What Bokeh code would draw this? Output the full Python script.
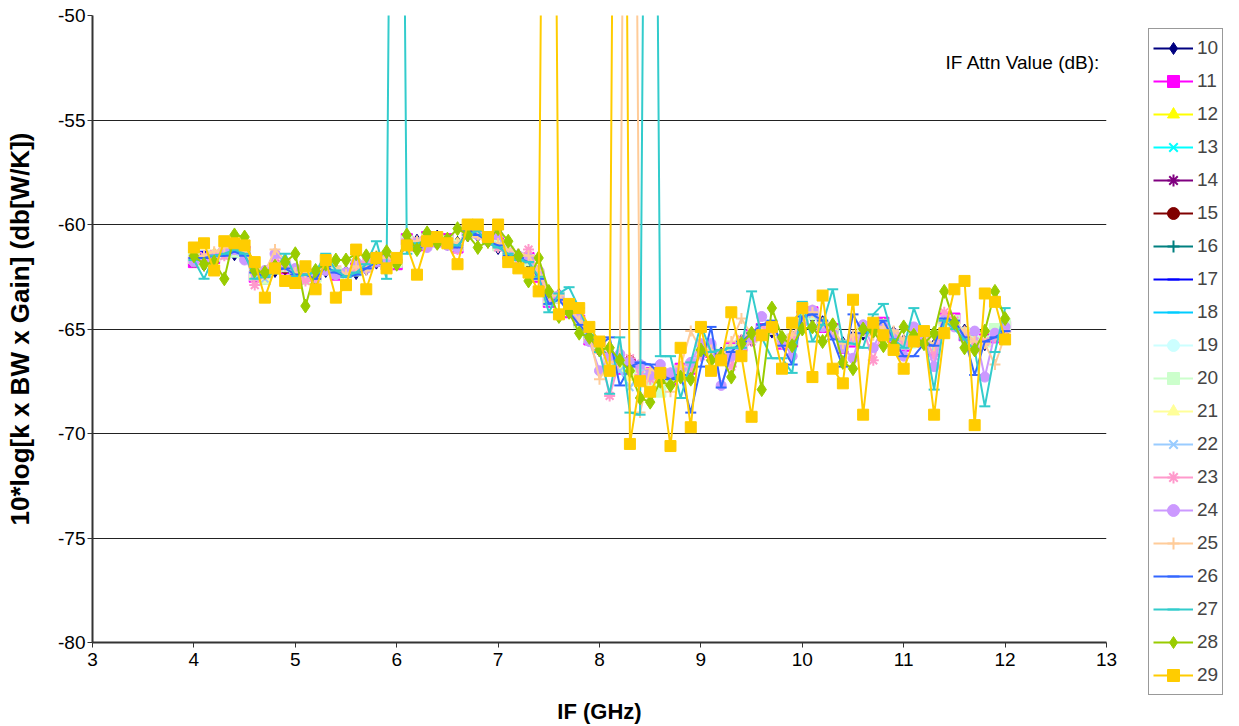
from bokeh.plotting import figure
from bokeh.models import Range1d, Legend, LegendItem, Label, SingleIntervalTicker
from bokeh.embed import file_html
from bokeh.resources import INLINE

# IF frequency grid (GHz)
freq_ghz = [4.0, 4.1, 4.2, 4.3, 4.4, 4.5, 4.6, 4.7, 4.8, 4.9,
            5.0, 5.1, 5.2, 5.3, 5.4, 5.5, 5.6, 5.7, 5.8, 5.9,
            6.0, 6.1, 6.2, 6.3, 6.4, 6.5, 6.6, 6.7, 6.8, 6.9,
            7.0, 7.1, 7.2, 7.3, 7.4, 7.5, 7.6, 7.7, 7.8, 7.9,
            8.0, 8.1, 8.2, 8.3, 8.4, 8.5, 8.6, 8.7, 8.8, 8.9,
            9.0, 9.1, 9.2, 9.3, 9.4, 9.5, 9.6, 9.7, 9.8, 9.9,
            10.0, 10.1, 10.2, 10.3, 10.4, 10.5, 10.6, 10.7, 10.8, 10.9,
            11.0, 11.1, 11.2, 11.3, 11.4, 11.5, 11.6, 11.7, 11.8, 11.9,
            12.0]

att10 = [-61.6,-61.9,-61.5,-61.3,-61.4,-61.5,-62.3,-62.5,-62.2,-62.1,
         -62.4,-62.5,-62.6,-62.2,-62.2,-62.3,-62.3,-62.1,-61.8,-61.8,
         -61.7,-60.9,-60.8,-60.8,-60.6,-60.9,-60.9,-60.5,-60.5,-60.8,
         -61.1,-61.2,-61.5,-61.8,-62.3,-63.5,-63.4,-64.0,-64.8,-65.3,
         -66.0,-66.4,-66.7,-66.9,-67.0,-67.3,-67.0,-67.2,-67.1,-66.7,
         -66.1,-65.9,-66.2,-66.1,-65.6,-65.5,-65.2,-65.1,-65.5,-65.4,
         -64.6,-64.4,-64.7,-65.2,-65.7,-65.4,-65.2,-65.1,-64.9,-65.2,
         -65.6,-65.4,-65.5,-65.8,-64.7,-64.7,-65.1,-65.5,-65.7,-65.2,
         -65.1]
att11 = [-61.8,-61.7,-61.6,-61.4,-61.2,-61.3,-62.5,-62.6,-62.0,-62.1,
         -62.6,-62.5,-62.4,-62.1,-62.4,-62.5,-62.1,-62.0,-61.6,-61.9,
         -61.9,-60.7,-61.0,-60.6,-60.8,-60.7,-61.1,-60.3,-60.4,-60.6,
         -60.9,-61.4,-61.6,-61.6,-62.5,-63.7,-63.5,-64.2,-64.6,-65.5,
         -65.8,-66.6,-66.9,-66.7,-67.2,-67.1,-67.2,-67.4,-66.9,-66.9,
         -65.9,-66.1,-66.4,-65.9,-65.8,-65.3,-65.0,-64.9,-65.7,-65.6,
         -64.4,-64.2,-64.9,-65.0,-65.9,-65.6,-65.0,-64.9,-64.7,-65.4,
         -65.8,-65.6,-65.3,-66.0,-64.5,-64.5,-65.3,-65.7,-65.5,-65.4,
         -64.9]
att12 = [-61.7,-61.8,-61.4,-61.5,-61.3,-61.5,-62.4,-62.7,-62.1,-61.9,
         -62.5,-62.7,-62.5,-62.0,-62.3,-62.3,-62.2,-61.9,-61.7,-62.0,
         -61.8,-60.8,-60.9,-60.8,-60.7,-60.8,-60.9,-60.4,-60.5,-60.7,
         -61.0,-61.3,-61.7,-61.7,-62.4,-63.6,-63.6,-64.1,-64.7,-65.4,
         -65.9,-66.5,-66.8,-66.9,-67.1,-67.2,-67.0,-67.3,-67.0,-66.8,
         -66.0,-66.0,-66.3,-66.1,-65.7,-65.4,-65.1,-65.0,-65.6,-65.5,
         -64.5,-64.3,-64.8,-65.1,-65.8,-65.5,-65.1,-65.0,-64.8,-65.3,
         -65.7,-65.5,-65.4,-65.9,-64.6,-64.6,-65.2,-65.6,-65.6,-65.3,
         -65.0]
att13 = [-61.6,-61.8,-61.6,-61.4,-61.4,-61.4,-62.3,-62.6,-62.2,-62.0,
         -62.5,-62.6,-62.4,-62.2,-62.3,-62.4,-62.2,-62.1,-61.7,-61.8,
         -61.7,-60.8,-60.9,-60.7,-60.8,-60.8,-61.0,-60.4,-60.3,-60.7,
         -61.0,-61.3,-61.6,-61.7,-62.4,-63.5,-63.5,-64.1,-64.7,-65.3,
         -65.9,-66.5,-66.7,-66.8,-67.1,-67.3,-67.1,-67.2,-67.0,-66.8,
         -66.0,-66.1,-66.3,-66.0,-65.7,-65.4,-65.1,-65.0,-65.6,-65.6,
         -64.5,-64.3,-64.8,-65.1,-65.7,-65.5,-65.1,-65.0,-64.8,-65.3,
         -65.7,-65.5,-65.4,-65.9,-64.6,-64.6,-65.2,-65.6,-65.6,-65.3,
         -65.0]
att14 = [-61.7,-61.7,-61.5,-61.3,-61.3,-61.4,-62.4,-62.5,-62.1,-62.0,
         -62.4,-62.6,-62.5,-62.1,-62.2,-62.4,-62.2,-62.0,-61.8,-61.9,
         -61.8,-60.8,-60.8,-60.7,-60.7,-60.7,-61.0,-60.4,-60.4,-60.7,
         -61.0,-61.3,-61.6,-61.6,-62.4,-63.6,-63.5,-64.0,-64.7,-65.4,
         -65.9,-66.4,-66.8,-66.8,-67.0,-67.2,-67.1,-67.3,-67.0,-66.9,
         -66.0,-66.0,-66.2,-66.0,-65.7,-65.4,-65.0,-65.0,-65.6,-65.5,
         -64.4,-64.3,-64.8,-65.1,-65.8,-65.5,-65.1,-65.0,-64.8,-65.3,
         -65.7,-65.5,-65.4,-65.9,-64.6,-64.6,-65.2,-65.6,-65.6,-65.3,
         -65.0]
att15 = [-61.8,-61.8,-61.5,-61.4,-61.3,-61.4,-62.4,-62.6,-62.1,-62.1,
         -62.5,-62.6,-62.5,-62.1,-62.3,-62.4,-62.2,-62.0,-61.7,-61.9,
         -61.8,-60.8,-60.9,-60.7,-60.7,-60.8,-61.0,-60.4,-60.4,-60.7,
         -61.0,-61.3,-61.6,-61.7,-62.4,-63.6,-63.5,-64.1,-64.7,-65.4,
         -65.9,-66.3,-66.8,-66.5,-67.1,-67.2,-67.1,-67.3,-67.0,-66.8,
         -66.0,-66.0,-66.3,-66.0,-65.7,-65.4,-65.1,-65.0,-65.6,-65.5,
         -64.5,-64.3,-64.8,-65.1,-65.8,-65.5,-65.1,-65.0,-64.8,-65.3,
         -65.7,-65.5,-65.4,-65.9,-64.6,-64.6,-65.2,-65.6,-65.6,-65.3,
         -65.0]
att16 = [-61.7,-61.9,-61.5,-61.4,-61.2,-61.4,-62.5,-62.6,-62.1,-62.0,
         -62.5,-62.5,-62.5,-62.2,-62.3,-62.4,-62.2,-62.0,-61.7,-61.8,
         -61.8,-60.8,-60.9,-60.7,-60.6,-60.8,-61.0,-60.4,-60.4,-60.7,
         -61.1,-61.3,-61.6,-61.8,-62.4,-63.6,-63.5,-64.1,-64.7,-65.4,
         -65.9,-66.5,-66.8,-66.8,-67.1,-67.2,-67.1,-67.3,-67.0,-66.8,
         -66.0,-66.0,-66.3,-66.0,-65.7,-65.4,-65.1,-65.0,-65.6,-65.5,
         -64.5,-64.3,-64.8,-65.1,-65.8,-65.5,-65.1,-65.0,-64.8,-65.3,
         -65.7,-65.5,-65.4,-65.9,-64.6,-64.6,-65.2,-65.6,-65.6,-65.3,
         -65.0]
att17 = [-61.6,-61.3,-61.6,-61.4,-61.3,-61.3,-62.3,-62.4,-62.0,-62.1,
         -62.6,-62.3,-62.6,-62.0,-62.4,-62.7,-62.3,-62.1,-61.7,-61.9,
         -61.8,-60.8,-60.7,-60.8,-60.7,-60.7,-61.1,-60.2,-60.4,-60.7,
         -61.1,-61.4,-61.6,-61.8,-62.5,-63.7,-63.5,-64.1,-64.8,-65.4,
         -65.9,-66.6,-66.9,-66.8,-67.1,-67.1,-67.2,-67.3,-67.1,-66.8,
         -66.1,-65.9,-66.3,-66.1,-65.8,-65.4,-65.2,-65.0,-65.6,-65.5,
         -64.4,-64.2,-64.8,-65.2,-65.9,-65.5,-65.1,-65.0,-64.8,-65.3,
         -65.8,-65.6,-65.4,-65.9,-64.7,-64.6,-65.2,-65.6,-65.6,-65.2,
         -65.0]
att18 = [-61.7,-61.8,-61.6,-61.4,-61.3,-61.5,-62.4,-62.6,-62.1,-62.0,
         -62.5,-62.6,-62.5,-62.1,-62.3,-62.4,-62.3,-62.0,-61.8,-61.9,
         -61.8,-60.9,-60.9,-60.7,-60.7,-60.8,-61.0,-60.4,-60.4,-60.8,
         -61.0,-61.3,-61.6,-61.7,-62.4,-63.6,-63.5,-64.1,-64.7,-65.4,
         -65.9,-66.5,-66.8,-66.8,-67.1,-67.2,-67.1,-67.3,-67.0,-66.8,
         -66.0,-66.0,-66.3,-66.0,-65.7,-65.4,-65.1,-65.0,-65.6,-65.5,
         -64.5,-64.3,-64.8,-65.1,-65.8,-65.5,-65.1,-65.0,-64.8,-65.3,
         -65.7,-65.5,-65.4,-65.9,-64.6,-64.6,-65.2,-65.6,-65.6,-65.3,
         -65.0]
att19 = [-61.7,-61.7,-61.5,-61.4,-61.3,-61.4,-62.4,-62.5,-62.1,-62.0,
         -62.4,-62.6,-62.5,-62.1,-62.3,-62.4,-62.2,-62.0,-61.7,-61.9,
         -61.8,-60.8,-60.9,-60.7,-60.7,-60.8,-61.0,-60.4,-60.4,-60.7,
         -61.0,-61.3,-61.6,-61.7,-62.4,-63.6,-63.5,-64.1,-64.7,-65.4,
         -65.9,-66.5,-66.8,-66.8,-67.1,-67.2,-67.1,-67.3,-67.0,-66.8,
         -66.0,-66.0,-66.3,-66.0,-65.7,-65.4,-65.1,-65.0,-65.6,-65.5,
         -64.5,-64.3,-64.8,-65.1,-65.8,-65.5,-65.1,-65.0,-64.8,-65.3,
         -65.7,-65.7,-65.4,-65.9,-64.6,-64.6,-65.2,-65.6,-65.6,-65.3,
         -65.0]
att20 = [-61.6,-61.8,-61.5,-61.4,-61.3,-61.4,-62.4,-62.6,-62.1,-62.0,
         -62.5,-62.6,-62.5,-62.1,-62.3,-62.4,-62.2,-62.0,-61.7,-61.9,
         -61.8,-60.8,-60.9,-60.7,-60.7,-60.8,-61.0,-60.3,-60.4,-60.7,
         -61.0,-61.3,-61.6,-61.7,-62.4,-63.6,-63.5,-64.1,-64.7,-65.4,
         -65.9,-66.5,-66.8,-66.8,-67.1,-67.4,-68.0,-67.3,-67.0,-66.8,
         -66.0,-66.0,-66.3,-66.0,-65.7,-65.4,-65.1,-65.0,-65.6,-65.5,
         -64.5,-64.3,-64.8,-65.1,-65.8,-65.5,-65.1,-65.0,-64.8,-65.3,
         -65.7,-65.5,-65.4,-65.9,-64.6,-64.6,-65.2,-65.6,-65.6,-65.0,
         -64.8]
att21 = [-61.7,-61.8,-61.5,-61.4,-61.3,-61.4,-62.4,-62.6,-62.1,-62.0,
         -62.5,-62.6,-62.5,-62.1,-62.3,-62.4,-62.2,-62.0,-61.7,-61.9,
         -61.8,-60.8,-60.9,-60.7,-60.7,-60.8,-61.0,-60.4,-60.4,-60.7,
         -61.0,-61.3,-61.6,-61.7,-62.4,-63.6,-63.5,-64.1,-64.7,-65.4,
         -65.9,-66.5,-66.8,-67.3,-67.1,-67.2,-67.4,-67.3,-67.0,-66.8,
         -66.0,-66.0,-66.3,-66.0,-65.7,-65.4,-65.1,-65.0,-65.6,-65.5,
         -64.5,-64.3,-64.8,-65.1,-65.8,-65.5,-65.1,-65.0,-64.8,-65.3,
         -65.7,-65.5,-65.4,-65.9,-64.6,-64.6,-65.2,-65.6,-65.6,-65.3,
         -65.0]
att22 = [-61.7,-61.8,-61.6,-61.4,-61.3,-61.4,-62.4,-62.6,-62.1,-62.0,
         -62.5,-62.6,-62.5,-62.1,-62.3,-62.4,-62.2,-62.0,-61.7,-61.9,
         -61.8,-60.8,-60.9,-60.7,-60.7,-60.8,-61.0,-60.4,-60.4,-60.7,
         -61.0,-61.3,-61.6,-61.7,-62.4,-63.8,-63.5,-64.1,-64.7,-65.4,
         -65.9,-66.5,-67.0,-67.8,-67.1,-67.2,-67.1,-67.3,-67.0,-66.8,
         -66.0,-66.0,-66.3,-66.0,-65.7,-65.4,-65.1,-65.0,-65.6,-65.5,
         -64.5,-64.3,-64.8,-65.1,-65.8,-65.5,-65.1,-65.0,-64.8,-65.3,
         -65.7,-65.5,-65.4,-65.9,-64.6,-64.6,-65.2,-65.6,-65.6,-65.3,
         -65.0]
att23 = [-61.6,-61.5,-61.4,-61.5,-61.2,-61.3,-62.9,-62.4,-61.8,-62.0,
         -62.4,-62.7,-62.6,-62.0,-62.4,-62.3,-62.1,-61.8,-61.6,-61.8,
         -61.7,-60.7,-60.8,-60.6,-60.7,-60.8,-61.2,-60.4,-60.4,-60.7,
         -61.1,-61.3,-61.7,-61.2,-62.3,-63.6,-63.5,-64.1,-64.5,-65.5,
         -66.0,-68.2,-66.5,-66.4,-67.2,-67.4,-67.4,-67.1,-67.0,-66.9,
         -66.3,-66.0,-66.2,-66.8,-65.5,-65.6,-65.0,-64.9,-65.7,-65.4,
         -64.6,-64.1,-64.8,-65.0,-65.9,-65.4,-65.0,-66.5,-64.9,-65.2,
         -65.6,-65.4,-65.3,-66.3,-64.2,-64.6,-65.2,-65.6,-65.6,-65.4,
         -65.1]
att24 = [-61.8,-61.7,-61.6,-61.3,-61.2,-61.7,-62.1,-62.2,-61.4,-61.8,
         -62.1,-62.3,-62.4,-62.2,-62.4,-62.3,-61.8,-62.1,-61.8,-61.6,
         -61.6,-61.0,-60.9,-61.1,-60.9,-61.0,-61.1,-60.5,-60.5,-60.8,
         -60.5,-61.4,-61.5,-61.6,-62.2,-63.3,-63.4,-63.8,-64.5,-65.6,
         -67.0,-66.3,-66.2,-66.6,-66.7,-67.2,-66.7,-67.1,-66.9,-66.6,
         -65.7,-65.7,-67.7,-66.3,-65.8,-65.4,-64.4,-65.0,-65.5,-66.3,
         -64.7,-64.1,-64.9,-65.2,-65.9,-66.4,-64.8,-65.9,-64.9,-65.4,
         -66.3,-64.9,-65.4,-66.8,-64.6,-64.9,-65.3,-65.1,-67.3,-65.2,
         -64.9]
att25 = [-61.5,-61.5,-61.3,-61.1,-61.0,-61.3,-62.1,-62.3,-61.2,-61.7,
         -62.3,-62.3,-62.2,-61.8,-62.0,-62.4,-62.0,-62.2,-61.5,-61.6,
         -61.7,-60.8,-60.8,-60.5,-60.6,-60.7,-60.9,-60.5,-60.6,-60.9,
         -60.9,-61.2,-61.4,-61.5,-62.2,-63.4,-63.4,-63.9,-64.6,-65.3,
         -67.4,-66.6,-66.5,0.0,-69.0,-66.9,-67.2,-68.0,-66.8,-65.1,
         -66.0,-66.0,-66.4,-65.6,-64.5,-65.3,-65.2,-65.0,-65.5,-65.3,
         -64.6,-64.2,-64.7,-65.0,-65.7,-65.3,-65.0,-65.3,-64.9,-65.1,
         -65.5,-65.2,-65.3,-65.8,-64.7,-64.8,-65.1,-65.6,-65.7,-66.7,
         -65.3]
att26 = [-61.6,-61.6,-61.5,-61.5,-61.3,-61.5,-62.3,-62.5,-62.2,-62.1,
         -62.4,-62.4,-62.6,-62.0,-62.3,-62.5,-62.4,-62.1,-61.8,-62.0,
         -61.7,-60.9,-61.1,-60.7,-60.7,-60.9,-61.1,-60.3,-60.5,-60.8,
         -61.0,-61.5,-61.6,-61.8,-62.6,-63.8,-63.6,-64.2,-64.8,-65.3,
         -65.8,-65.4,-67.7,-66.8,-66.6,-66.7,-67.2,-67.4,-67.2,-69.0,
         -66.8,-64.9,-67.8,-66.1,-65.6,-65.2,-64.8,-64.6,-65.8,-66.7,
         -64.4,-64.3,-64.6,-65.5,-66.8,-64.3,-65.2,-65.0,-64.6,-65.5,
         -66.3,-66.3,-65.7,-65.8,-64.5,-64.6,-65.4,-67.2,-65.6,-65.4,
         -65.1]
att27 = [-61.7,-62.6,-61.5,-61.4,-61.2,-61.4,-62.6,-62.5,-62.3,-61.4,
         -62.5,-62.4,-62.3,-61.4,-62.2,-62.5,-62.3,-61.9,-60.8,-62.6,
         0.0,-61.4,-60.9,-60.8,-60.6,-60.9,-61.0,-60.5,-60.3,-60.9,
         -61.1,-61.4,-61.7,-61.8,-62.5,-64.2,-63.3,-63.0,-64.0,-65.3,
         -66.1,-68.1,-65.4,-69.0,-69.1,0.0,-66.3,-66.3,-68.3,-66.6,
         -64.8,-66.1,-66.0,-65.9,-65.9,-63.2,-65.4,-66.4,-66.4,-67.1,
         -63.7,-65.6,-64.8,-63.1,-65.6,-65.7,-65.9,-64.3,-63.8,-65.5,
         -65.9,-64.0,-65.3,-67.9,-64.6,-65.0,-65.5,-66.0,-68.7,-66.1,
         -64.0]
att28 = [-61.5,-61.9,-61.8,-62.6,-60.5,-60.6,-62.2,-62.3,-62.0,-61.8,
         -61.4,-63.9,-62.2,-61.9,-61.7,-61.7,-61.4,-61.5,-61.6,-61.3,
         -61.9,-60.5,-61.2,-60.4,-60.9,-60.7,-60.2,-60.5,-61.1,-60.8,
         -60.2,-60.8,-61.5,-62.7,-61.6,-63.2,-64.4,-64.2,-65.2,-65.4,
         -66.0,-65.9,-66.5,-67.0,-68.3,-68.5,-67.5,-67.7,-67.3,-67.4,
         -66.0,-66.5,-66.3,-67.3,-65.7,-65.2,-67.9,-64.0,-65.4,-65.8,
         -65.0,-64.9,-65.6,-64.8,-66.6,-66.9,-65.0,-65.1,-65.8,-65.8,
         -64.9,-65.3,-65.7,-65.2,-63.2,-64.7,-65.9,-66.0,-65.1,-63.2,
         -64.5]
att29 = [-61.1,-60.9,-62.2,-60.8,-60.9,-61.0,-61.8,-63.5,-62.1,-62.7,
         -62.8,-62.0,-63.1,-61.7,-63.5,-62.9,-61.2,-63.1,-61.6,-62.1,
         -61.6,-61.0,-62.4,-60.8,-60.6,-60.9,-61.9,-60.0,-60.0,-60.6,
         -60.0,-61.8,-62.1,-62.3,-63.2,0.0,-64.3,-63.8,-64.0,-64.9,
         -65.6,-67.0,5.0,-70.5,-67.5,-68.0,-67.1,-70.6,-65.9,-69.7,
         -64.9,-67.0,-66.5,-64.2,-66.3,-69.2,-65.3,-64.9,-66.9,-64.7,
         -64.0,-67.3,-63.4,-66.9,-67.6,-63.6,-69.1,-64.7,-65.3,-66.0,
         -66.9,-65.6,-65.1,-69.1,-65.2,-63.1,-62.7,-69.6,-63.3,-63.7,
         -65.5]

series_labels = ["10", "11", "12", "13", "14", "15", "16", "17", "18", "19",
                 "20", "21", "22", "23", "24", "25", "26", "27", "28", "29"]
series_values = [att10, att11, att12, att13, att14, att15, att16, att17, att18, att19,
                 att20, att21, att22, att23, att24, att25, att26, att27, att28, att29]
y_ticks = [-80, -75, -70, -65, -60, -55, -50]

colors = ["#000080", "#FF00FF", "#FFFF00", "#00FFFF", "#800080", "#800000", "#008080",
          "#0000FF", "#00CCFF", "#CCFFFF", "#CCFFCC", "#FFFF99", "#99CCFF", "#FF99CC",
          "#CC99FF", "#FFCC99", "#3366FF", "#33CCCC", "#99CC00", "#FFCC00"]
markers = ["diamond", "square", "triangle", "x", "asterisk", "circle", "cross",
           "dash", "dash", "circle", "square", "triangle", "x", "asterisk",
           "circle", "cross", "dash", "dash", "diamond", "square"]
msize = {"diamond": 14, "square": 11, "triangle": 11, "x": 10, "asterisk": 11,
         "circle": 10, "cross": 11, "dash": 11}

FONT = "Liberation Sans"

p = figure(frame_width=1014, frame_height=627,
           min_border_left=92, min_border_right=125, min_border_top=15, min_border_bottom=82,
           x_range=Range1d(3, 13), y_range=Range1d(-80, -50),
           output_backend="svg", toolbar_location=None)
p.outline_line_color = None
p.background_fill_color = "white"
p.border_fill_color = "white"

p.xaxis.ticker = SingleIntervalTicker(interval=1)
p.yaxis.ticker = SingleIntervalTicker(interval=5)
p.yaxis.major_label_overrides = {v: str(v) for v in y_ticks}
p.xgrid.grid_line_color = None
p.ygrid.grid_line_color = "#222222"
p.ygrid.grid_line_width = 1

for ax in (p.xaxis[0], p.yaxis[0]):
    ax.minor_tick_line_color = None
    ax.major_tick_in = 0
    ax.major_tick_out = 5
    ax.major_tick_line_color = "#333333"
    ax.axis_line_color = "#333333"
    ax.axis_line_width = 2
    ax.major_label_text_font = FONT
    ax.major_label_text_font_size = "19px"
    ax.major_label_text_color = "black"
    ax.axis_label_text_font = FONT
    ax.axis_label_text_font_style = "bold"
    ax.axis_label_text_color = "black"

p.xaxis.axis_label = "IF (GHz)"
p.xaxis.axis_label_text_font_size = "22px"
p.xaxis.major_label_standoff = 5
p.xaxis.axis_label_standoff = 30
p.yaxis.axis_label = "10*log[k x BW x Gain] (db[W/K])"
p.yaxis.axis_label_text_font_size = "26px"
p.yaxis.major_label_standoff = 2
p.yaxis.axis_label_standoff = 20

items = []
for lab, vals, col, mk in zip(series_labels, series_values, colors, markers):
    ln = p.line(freq_ghz, vals, line_color=col, line_width=2)
    sc = p.scatter(freq_ghz, vals, marker=mk, size=msize[mk],
                   fill_color=col, line_color=col,
                   line_width=2 if mk in ("x", "asterisk", "cross", "dash") else 1)
    items.append(LegendItem(label=lab, renderers=[ln, sc]))

legend = Legend(items=items, location=(42, -53))
legend.glyph_width = 40
legend.glyph_height = 30
legend.label_height = 30
legend.spacing = 3
legend.padding = 4
legend.margin = 0
legend.label_standoff = 4
legend.label_text_font = FONT
legend.label_text_font_size = "19px"
legend.border_line_color = "#333333"
legend.border_line_width = 1
legend.background_fill_color = "white"
legend.background_fill_alpha = 1
p.add_layout(legend, "right")

p.add_layout(Label(x=12.94, y=-52.25, text="IF Attn Value (dB):",
                   text_align="right", text_baseline="middle",
                   text_font=FONT, text_font_size="19px", text_color="black"))

open("out.html", "w").write(file_html(p, INLINE))
